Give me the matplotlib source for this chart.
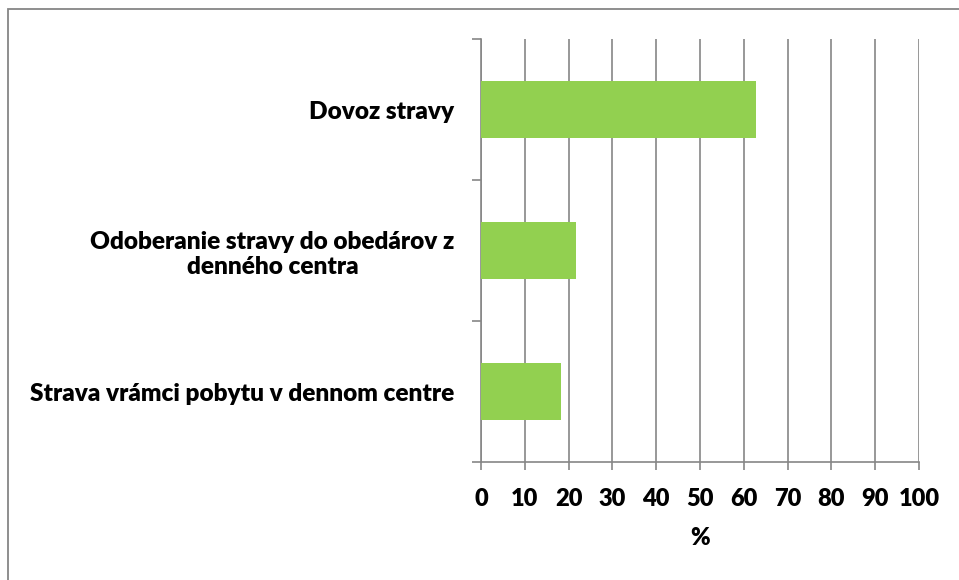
import matplotlib
matplotlib.use("Agg")
from matplotlib import pyplot as plt
from matplotlib.patches import Rectangle

categories = ["Dovoz stravy",
              "Odoberanie stravy do obedárov z\ndenného centra",
              "Strava vrámci pobytu v dennom centre"]
values = [62.8, 21.8, 18.3]
x_ticks = [0, 10, 20, 30, 40, 50, 60, 70, 80, 90, 100]

bar_color = "#92D050"
grid_color = "#868686"

plt.rcParams["font.family"] = ["Lato", "DejaVu Sans"]
plt.rcParams["font.weight"] = "bold"

fig = plt.figure(figsize=(9.59, 5.8), dpi=100)
# outer chart frame (only left and top edges visible in the crop)
fig.patches.append(Rectangle((8 / 959, -0.1), 1.2, 1.1 - 9.5 / 580,
                             transform=fig.transFigure, fill=False,
                             edgecolor="#868686", linewidth=1.3))

ax = fig.add_axes([481 / 959, 1 - 462 / 580, 438 / 959, 423 / 580])

ypos = range(len(categories))
ax.barh(ypos, values, height=0.4, color=bar_color, zorder=3)

ax.set_xlim(0, 100)
ax.set_ylim(2.5, -0.5)
ax.set_xticks(x_ticks)
ax.set_xticklabels([str(t) for t in x_ticks], fontsize=17, fontweight="heavy")
ax.grid(axis="x", color=grid_color, linewidth=1.2, zorder=0)

# category boundaries as major ticks, labels on minor ticks
ax.set_yticks([-0.5, 0.5, 1.5, 2.5])
ax.set_yticklabels([])
ax.set_yticks(list(ypos), minor=True)
ax.set_yticklabels(categories, minor=True, fontsize=17.6, fontweight="heavy",
                   multialignment="center")
ax.tick_params(axis="y", which="minor", length=0, pad=19)
ax.tick_params(axis="y", which="major", length=6.5, width=1.2, color=grid_color)
ax.tick_params(axis="x", length=6, width=1.2, color=grid_color, pad=13)

for s in ["top", "right"]:
    ax.spines[s].set_visible(False)
for s in ["left", "bottom"]:
    ax.spines[s].set_color(grid_color)
    ax.spines[s].set_linewidth(1.2)

ax.set_xlabel("%", fontsize=17, fontweight="heavy", labelpad=12)

fig.savefig("out.png", dpi=100)
